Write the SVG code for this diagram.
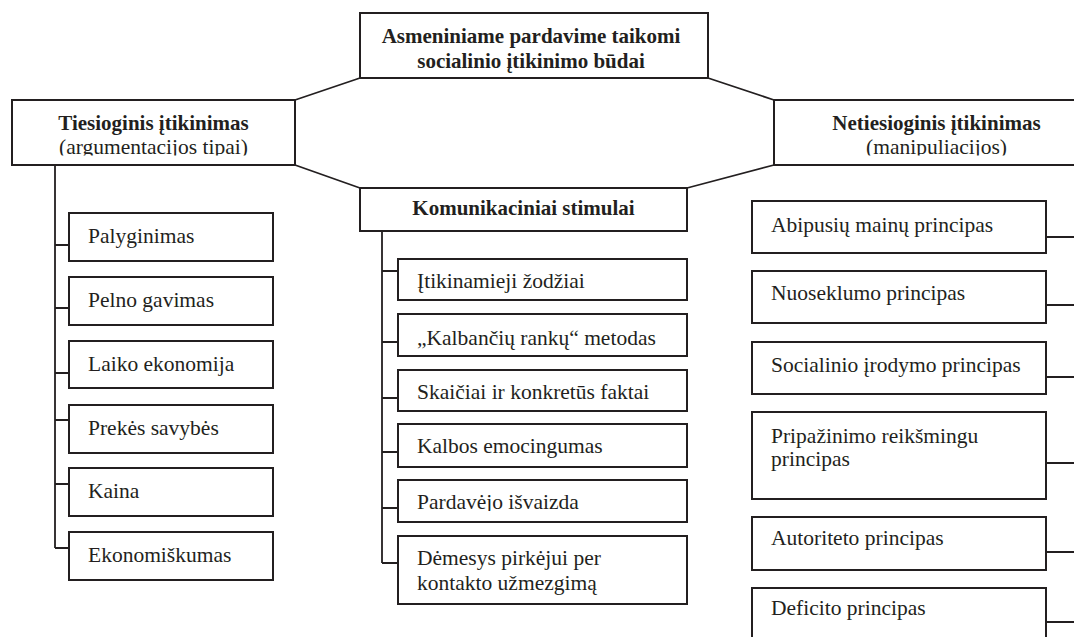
<svg xmlns="http://www.w3.org/2000/svg" width="1074" height="637" viewBox="0 0 1074 637">
<style>
.box{fill:#fff;stroke:#231f20;stroke-width:2}
.ln{fill:none;stroke:#231f20;stroke-width:1.8}
.t{font-family:"Liberation Serif","Times New Roman",serif;font-size:21.5px;fill:#231f20}
.b{font-family:"Liberation Serif","Times New Roman",serif;font-size:21px;font-weight:bold;fill:#231f20}
.c{text-anchor:middle}
</style>
<defs>
<clipPath id="clipL"><rect x="0" y="0" width="1074" height="155.5"/></clipPath>
<clipPath id="clipP"><rect x="0" y="0" width="1074" height="511"/></clipPath>
</defs>
<g id="connectors">
<path class="ln" d="M295,100 L360,78 M708,78 L774,100 M295,165 L360,188 M687,188 L774,165"/>
<path class="ln" d="M55,165 V548 M55,245 H69 M55,308 H69 M55,373 H69 M55,420 H69 M55,484 H69 M55,548 H69"/>
<path class="ln" d="M382,231 V563 M382,271 H398 M382,342 H398 M382,398 H398 M382,452 H398 M382,508 H398 M382,563 H398"/>
<path class="ln" d="M1046,237 H1074 M1046,305 H1074 M1046,377 H1074 M1046,463 H1074 M1046,552 H1074 M1046,622 H1074"/>
</g>
<g id="root">
<rect class="box" x="360" y="13" width="348" height="65"/>
<text class="b c" x="531" y="43">Asmeniniame pardavime taikomi</text>
<text class="b c" x="531" y="68">socialinio įtikinimo būdai</text>
</g>
<g id="direct">
<rect class="box" x="12" y="100" width="283" height="65"/>
<text class="b c" x="153.5" y="130">Tiesioginis įtikinimas</text>
<text class="t c" x="153.5" y="154" clip-path="url(#clipL)">(argumentacijos tipai)</text>
</g>
<g id="indirect">
<rect class="box" x="774" y="100" width="330" height="65"/>
<text class="b c" x="936.5" y="130">Netiesioginis įtikinimas</text>
<text class="t c" x="936.5" y="154" clip-path="url(#clipL)">(manipuliacijos)</text>
</g>
<g id="stimuli">
<rect class="box" x="360" y="188" width="327" height="43"/>
<text class="b c" x="523.5" y="215">Komunikaciniai stimulai</text>
</g>
<g id="l1"><rect class="box" x="69" y="213" width="204" height="48"/><text class="t" x="88" y="243">Palyginimas</text></g>
<g id="l2"><rect class="box" x="69" y="277" width="204" height="48"/><text class="t" x="88" y="307">Pelno gavimas</text></g>
<g id="l3"><rect class="box" x="69" y="341" width="204" height="47"/><text class="t" x="88" y="371">Laiko ekonomija</text></g>
<g id="l4"><rect class="box" x="69" y="405" width="204" height="48"/><text class="t" x="88" y="435">Prekės savybės</text></g>
<g id="l5"><rect class="box" x="69" y="468" width="204" height="48"/><text class="t" x="88" y="498">Kaina</text></g>
<g id="l6"><rect class="box" x="69" y="532" width="204" height="48"/><text class="t" x="88" y="562">Ekonomiškumas</text></g>
<g id="m1"><rect class="box" x="398" y="259" width="289" height="41"/><text class="t" x="417" y="288">Įtikinamieji žodžiai</text></g>
<g id="m2"><rect class="box" x="398" y="314" width="289" height="42"/><text class="t" x="417" y="345">„Kalbančių rankų“ metodas</text></g>
<g id="m3"><rect class="box" x="398" y="370" width="289" height="41"/><text class="t" x="417" y="399">Skaičiai ir konkretūs faktai</text></g>
<g id="m4"><rect class="box" x="398" y="424" width="289" height="43"/><text class="t" x="417" y="453">Kalbos emocingumas</text></g>
<g id="m5"><rect class="box" x="398" y="480" width="289" height="42"/><text class="t" x="417" y="509" clip-path="url(#clipP)">Pardavėjo išvaizda</text></g>
<g id="m6"><rect class="box" x="398" y="536" width="289" height="68"/><text class="t" x="417" y="565">Dėmesys pirkėjui per</text><text class="t" x="417" y="590">kontakto užmezgimą</text></g>
<g id="r1"><rect class="box" x="752" y="201" width="294" height="52"/><text class="t" x="771" y="232">Abipusių mainų principas</text></g>
<g id="r2"><rect class="box" x="752" y="271" width="294" height="52"/><text class="t" x="771" y="300">Nuoseklumo principas</text></g>
<g id="r3"><rect class="box" x="752" y="342" width="294" height="52"/><text class="t" x="771" y="372">Socialinio įrodymo principas</text></g>
<g id="r4"><rect class="box" x="752" y="412" width="294" height="87"/><text class="t" x="771" y="443">Pripažinimo reikšmingu</text><text class="t" x="771" y="466">principas</text></g>
<g id="r5"><rect class="box" x="752" y="517" width="294" height="53"/><text class="t" x="771" y="545">Autoriteto principas</text></g>
<g id="r6"><rect class="box" x="752" y="588" width="294" height="60"/><text class="t" x="771" y="615">Deficito principas</text></g>
</svg>
